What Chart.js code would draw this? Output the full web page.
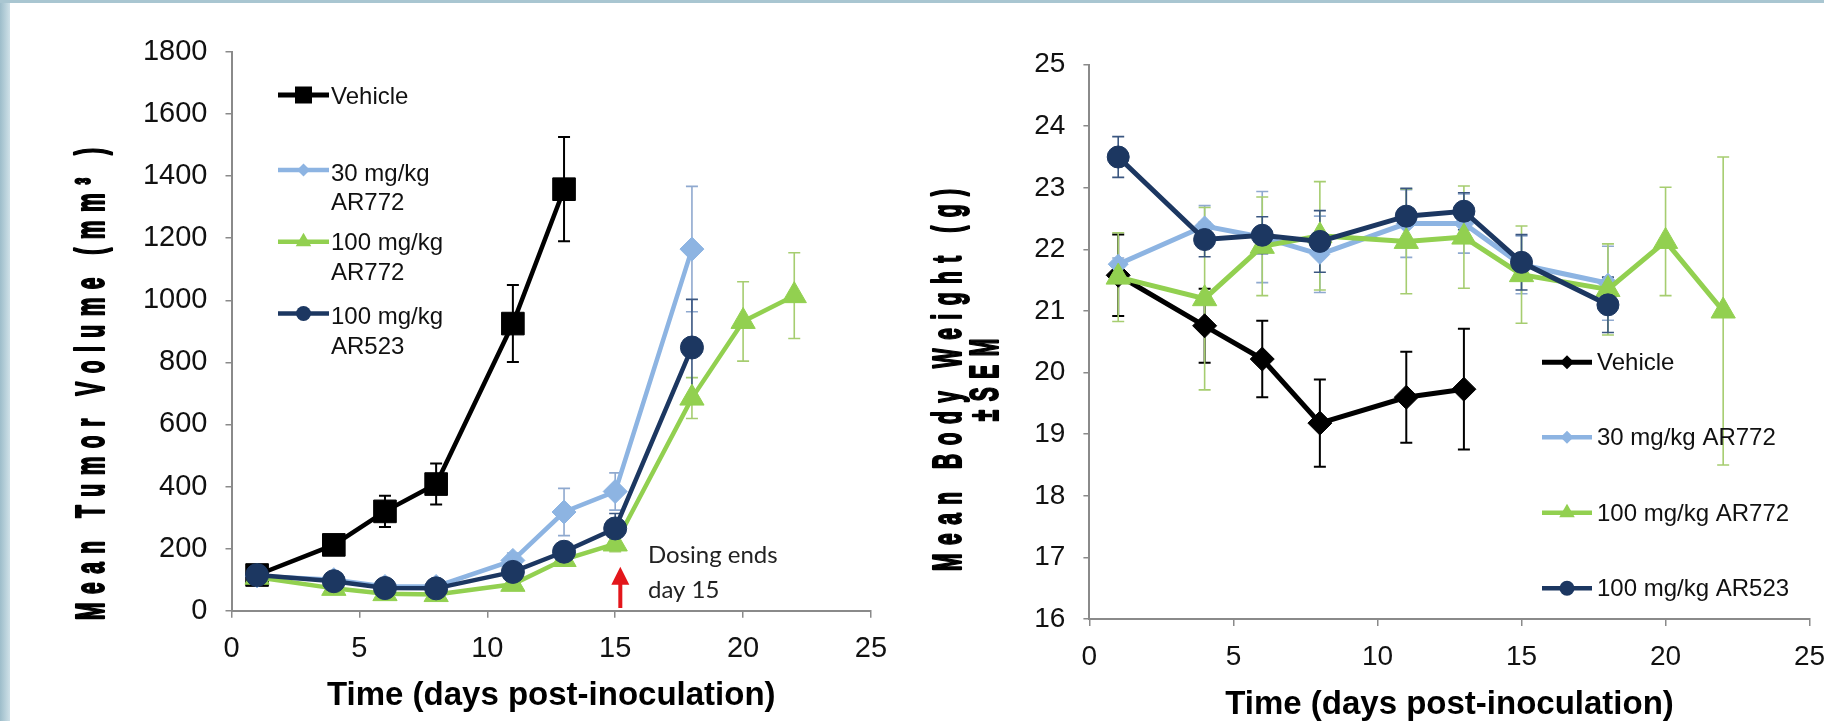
<!DOCTYPE html>
<html>
<head>
<meta charset="utf-8">
<script src="https://cdn.jsdelivr.net/npm/chart.js@4.4.1/dist/chart.umd.min.js"></script>
<style>
html,body{margin:0;padding:0;width:1824px;height:721px;overflow:hidden;background:#ffffff;}
#c1{position:absolute;left:0;top:0;}
#c2{position:absolute;left:912px;top:0;}
#lb{position:absolute;left:0;top:0;width:10px;height:721px;background:linear-gradient(to right,#9dbdca,#cfe1e8);}
#tb{position:absolute;left:0;top:0;width:1824px;height:3px;background:#a9c6d1;}
</style>
</head>
<body>
<canvas id="c1" width="912" height="721"></canvas>
<canvas id="c2" width="932" height="721"></canvas>
<div id="lb"></div><div id="tb"></div>
<script>
// ---------------- DATA ----------------
const xTickValues = [0, 5, 10, 15, 20, 25];
const tumorTickValues = [0, 200, 400, 600, 800, 1000, 1200, 1400, 1600, 1800];
const weightTickValues = [16, 17, 18, 19, 20, 21, 22, 23, 24, 25];

const seriesLabels = ['Vehicle', '30 mg/kg AR772', '100 mg/kg AR772', '100 mg/kg AR523'];
const leftLegendText = [['Vehicle'], ['30 mg/kg', 'AR772'], ['100 mg/kg', 'AR772'], ['100 mg/kg', 'AR523']];
const rightLegendText = [['Vehicle'], ['30 mg/kg AR772'], ['100 mg/kg AR772'], ['100 mg/kg AR523']];

const xAxisTitle = 'Time (days post-inoculation)';
const tumorAxisTitle = ['Mean Tumor Volume (mm\u00B3 )'];
const weightAxisTitle = ['Mean Body Weight (g)', '\u00B1SEM'];
const annotationText = ['Dosing ends', 'day 15'];
const annotationDay = 15.2;

// Tumor volume (mm3)
const tumorDaysVehicle = [1, 4, 6, 8, 11, 13];
const tumorVehicle = [115, 212, 320, 408, 925, 1358];
const tumorVehicleSem = [20, 28, 50, 66, 124, 168];

const tumorDaysAR772low = [1, 4, 6, 8, 11, 13, 15, 18];
const tumorAR772low = [112, 100, 78, 78, 162, 318, 384, 1165];
const tumorAR772lowSem = [14, 14, 14, 14, 24, 76, 60, 202];

const tumorDaysAR772high = [1, 4, 6, 8, 11, 13, 15, 18, 20, 22];
const tumorAR772high = [108, 72, 55, 52, 85, 165, 215, 685, 932, 1015];
const tumorAR772highSem = [12, 12, 10, 10, 15, 20, 25, 66, 128, 138];

const tumorDaysAR523 = [1, 4, 6, 8, 11, 13, 15, 18];
const tumorAR523 = [115, 95, 73, 72, 125, 190, 265, 848];
const tumorAR523Sem = [15, 15, 12, 12, 20, 25, 48, 155];

// Body weight (g)
const weightDaysVehicle = [1, 4, 6, 8, 11, 13];
const weightVehicle = [21.58, 20.76, 20.22, 19.18, 19.6, 19.73];
const weightVehicleSem = [0.66, 0.6, 0.62, 0.71, 0.74, 0.98];

const weightDaysAR772low = [1, 4, 6, 8, 11, 13, 15, 18];
const weightAR772low = [21.76, 22.38, 22.2, 21.92, 22.42, 22.42, 21.75, 21.45];
const weightAR772lowSem = [0.1, 0.33, 0.74, 0.62, 0.55, 0.48, 0.47, 0.6];

const weightDaysAR772high = [1, 4, 6, 8, 11, 13, 15, 18, 20, 22];
const weightAR772high = [21.55, 21.2, 22.05, 22.22, 22.13, 22.2, 21.59, 21.35, 22.13, 21.0];
const weightAR772highSem = [0.72, 1.48, 0.8, 0.88, 0.85, 0.83, 0.79, 0.74, 0.88, 2.5];

const weightDaysAR523 = [1, 4, 6, 8, 11, 13, 15, 18];
const weightAR523 = [23.5, 22.16, 22.23, 22.13, 22.54, 22.62, 21.79, 21.1];
const weightAR523Sem = [0.33, 0.28, 0.3, 0.5, 0.45, 0.3, 0.45, 0.45];

// ---------------- STYLES ----------------
const FONT = "'Liberation Sans', Arial, sans-serif";
const AXIS_GRAY = '#8a8a8a';
const leftStyles = [
  {color: '#000000', err: '#000000', errW: 2,   shape: 'rect',     r: 16,  lw: 4.5, order: 4},
  {color: '#8db4e2', err: '#8fa9cf', errW: 1.6, shape: 'rectRot',  r: 12,  lw: 4.5, order: 3},
  {color: '#92d050', err: '#a6cd70', errW: 1.6, shape: 'triangle', r: 14,  lw: 4.5, order: 2},
  {color: '#1c3761', err: '#3a5680', errW: 1.6, shape: 'circle',   r: 11.5, lw: 4.5, order: 1}
];
const rightStyles = [
  {color: '#000000', err: '#000000', errW: 2,   shape: 'rectRot',  r: 12,  lw: 5, order: 4},
  {color: '#8db4e2', err: '#8fa9cf', errW: 1.6, shape: 'rectRot',  r: 10,  lw: 5, order: 3},
  {color: '#92d050', err: '#a6cd70', errW: 1.6, shape: 'triangle', r: 14,  lw: 5, order: 2},
  {color: '#1c3761', err: '#3a5680', errW: 1.6, shape: 'circle',   r: 11,  lw: 5, order: 1}
];
const leftLegendLayout = [
  {x1: 278, x2: 329, y: 95,    r: 8.5, tx: 331, ty: [95]},
  {x1: 278, x2: 329, y: 170,   r: 6.5, tx: 331, ty: [172, 201]},
  {x1: 278, x2: 329, y: 241.7, r: 9,   tx: 331, ty: [241.7, 271]},
  {x1: 278, x2: 329, y: 313.5, r: 7.5, tx: 331, ty: [315, 345]}
];
const rightLegendLayout = [
  {x1: 630, x2: 680, y: 362.3, r: 7,   tx: 685, ty: [361.7]},
  {x1: 630, x2: 680, y: 437.3, r: 6.5, tx: 685, ty: [436.7]},
  {x1: 630, x2: 680, y: 512.7, r: 9,   tx: 685, ty: [512.3]},
  {x1: 630, x2: 680, y: 588.3, r: 7.5, tx: 685, ty: [587.3]}
];

// ---------------- HELPERS ----------------
function makeDataset(i, days, values, sem, styles) {
  const s = styles[i];
  return {
    label: seriesLabels[i],
    data: days.map((d, j) => ({x: d, y: values[j]})),
    sem: sem,
    errColor: s.err,
    errWidth: s.errW,
    borderColor: s.color,
    backgroundColor: s.color,
    pointBackgroundColor: s.color,
    pointBorderColor: s.color,
    pointBorderWidth: 1,
    pointStyle: s.shape,
    pointRadius: s.r,
    pointHoverRadius: s.r,
    borderWidth: s.lw,
    tension: 0,
    order: s.order,
    clip: false
  };
}

function drawMarker(ctx, shape, x, y, r, color) {
  ctx.fillStyle = color;
  ctx.beginPath();
  if (shape === 'rect') {
    ctx.rect(x - r, y - r, 2 * r, 2 * r);
  } else if (shape === 'rectRot') {
    ctx.moveTo(x, y - r); ctx.lineTo(x + r, y); ctx.lineTo(x, y + r); ctx.lineTo(x - r, y); ctx.closePath();
  } else if (shape === 'triangle') {
    ctx.moveTo(x, y - r); ctx.lineTo(x + r * 0.866, y + r * 0.5); ctx.lineTo(x - r * 0.866, y + r * 0.5); ctx.closePath();
  } else {
    ctx.arc(x, y, r, 0, Math.PI * 2);
  }
  ctx.fill();
}

const errorBarPlugin = {
  id: 'errorBars',
  beforeDatasetsDraw(chart) {
    const ctx = chart.ctx;
    const ys = chart.scales.y;
    const order = chart.data.datasets.map((d, i) => i).sort((a, b) => chart.data.datasets[b].order - chart.data.datasets[a].order);
    order.forEach(i => {
      const ds = chart.data.datasets[i];
      const meta = chart.getDatasetMeta(i);
      ctx.save();
      ctx.strokeStyle = ds.errColor;
      ctx.lineWidth = ds.errWidth;
      meta.data.forEach((pt, j) => {
        const v = ds.data[j].y, e = ds.sem[j];
        const yt = ys.getPixelForValue(v + e), yb = ys.getPixelForValue(v - e);
        const x = pt.x;
        ctx.beginPath();
        ctx.moveTo(x, yt); ctx.lineTo(x, yb);
        ctx.moveTo(x - 6, yt); ctx.lineTo(x + 6, yt);
        ctx.moveTo(x - 6, yb); ctx.lineTo(x + 6, yb);
        ctx.stroke();
      });
      ctx.restore();
    });
  }
};

function legendPlugin(layout, texts) {
  return {
    id: 'customLegend',
    afterDraw(chart) {
      const ctx = chart.ctx;
      layout.forEach((it, i) => {
        const ds = chart.data.datasets[i];
        ctx.save();
        ctx.strokeStyle = ds.borderColor;
        ctx.lineWidth = i === 0 ? 5 : 4.5;
        ctx.beginPath(); ctx.moveTo(it.x1, it.y); ctx.lineTo(it.x2, it.y); ctx.stroke();
        drawMarker(ctx, ds.pointStyle, (it.x1 + it.x2) / 2, it.y, it.r, ds.borderColor);
        ctx.fillStyle = '#111111';
        ctx.font = '24px ' + FONT;
        ctx.textBaseline = 'alphabetic';
        ctx.textAlign = 'left';
        texts[i].forEach((t, j) => ctx.fillText(t, it.tx, it.ty[j] + 8.6));
        ctx.restore();
      });
    }
  };
}

function rotatedTitlePlugin(lines, cxs, cy) {
  return {
    id: 'rotatedTitle',
    afterDraw(chart) {
      const ctx = chart.ctx;
      const stretch = 1.9, spacing = 8.5;
      lines.forEach((text, li) => {
        ctx.save();
        ctx.translate(cxs[li], cy);
        ctx.rotate(-Math.PI / 2);
        ctx.scale(1, stretch);
        ctx.font = 'bold 21px ' + FONT;
        ctx.fillStyle = '#000000';
        ctx.strokeStyle = '#000000';
        ctx.lineWidth = 1.1;
        ctx.lineJoin = 'round';
        ctx.textBaseline = 'middle';
        ctx.textAlign = 'left';
        const chars = Array.from(text);
        const widths = chars.map(c => ctx.measureText(c).width);
        const total = widths.reduce((a, b) => a + b, 0) + spacing * (chars.length - 1);
        let x = -total / 2;
        chars.forEach((c, i) => { ctx.fillText(c, x, 0); ctx.strokeText(c, x, 0); x += widths[i] + spacing; });
        ctx.restore();
      });
    }
  };
}

const annotationPlugin = {
  id: 'dosingAnnotation',
  afterDatasetsDraw(chart) {
    const ctx = chart.ctx;
    const xs = chart.scales.x, ys = chart.scales.y;
    const ax = xs.getPixelForValue(annotationDay);
    const yBase = ys.getPixelForValue(8.7), yTip = ys.getPixelForValue(141.7);
    ctx.save();
    ctx.strokeStyle = '#e3161b';
    ctx.fillStyle = '#e3161b';
    ctx.lineWidth = 4;
    ctx.beginPath(); ctx.moveTo(ax, yBase); ctx.lineTo(ax, yTip + 14); ctx.stroke();
    ctx.beginPath(); ctx.moveTo(ax, yTip); ctx.lineTo(ax + 9, yTip + 18); ctx.lineTo(ax - 9, yTip + 18); ctx.closePath(); ctx.fill();
    ctx.fillStyle = '#222222';
    ctx.font = "24px Lato, 'Open Sans', sans-serif";
    ctx.textBaseline = 'alphabetic';
    ctx.textAlign = 'left';
    const tx = xs.getPixelForValue(16.28);
    ctx.fillText(annotationText[0], tx, ys.getPixelForValue(154));
    ctx.fillText(annotationText[1], tx, ys.getPixelForValue(41));
    ctx.restore();
  }
};

function axes(yTicks, yMin, yMax, yWidth, xHeight, tickSize, titlePadBottom) {
  return {
    x: {
      type: 'linear', min: 0, max: 25,
      afterBuildTicks: s => { s.ticks = xTickValues.map(v => ({value: v})); },
      ticks: {font: {family: FONT, size: tickSize}, color: '#111111', padding: 14, maxRotation: 0, callback: v => String(v)},
      grid: {drawOnChartArea: false, drawTicks: true, tickLength: 7, color: AXIS_GRAY, lineWidth: 1.5},
      border: {color: AXIS_GRAY, width: 2},
      title: {display: true, text: xAxisTitle, color: '#000000',
        font: {family: FONT, size: 33, weight: 'bold', lineHeight: 1.0},
        padding: {top: 0, bottom: titlePadBottom}},
      afterFit: s => { s.height = xHeight; }
    },
    y: {
      type: 'linear', min: yMin, max: yMax,
      afterBuildTicks: s => { s.ticks = yTicks.map(v => ({value: v})); },
      ticks: {font: {family: FONT, size: tickSize}, color: '#111111', padding: 18, callback: v => String(v)},
      grid: {drawOnChartArea: false, drawTicks: true, tickLength: 6, color: AXIS_GRAY, lineWidth: 1.5},
      border: {color: AXIS_GRAY, width: 2},
      afterFit: s => { s.width = yWidth; }
    }
  };
}

// ---------------- LEFT CHART ----------------
new Chart(document.getElementById('c1'), {
  type: 'line',
  data: {
    datasets: [
      makeDataset(0, tumorDaysVehicle, tumorVehicle, tumorVehicleSem, leftStyles),
      makeDataset(1, tumorDaysAR772low, tumorAR772low, tumorAR772lowSem, leftStyles),
      makeDataset(2, tumorDaysAR772high, tumorAR772high, tumorAR772highSem, leftStyles),
      makeDataset(3, tumorDaysAR523, tumorAR523, tumorAR523Sem, leftStyles)
    ]
  },
  options: {
    responsive: false, animation: false, devicePixelRatio: 1,
    layout: {padding: {left: 0, right: 41, top: 52, bottom: 0}},
    plugins: {legend: {display: false}, tooltip: {enabled: false}},
    scales: axes(tumorTickValues, 0, 1800, 231.5, 110.3, 29, 8.5)
  },
  plugins: [errorBarPlugin, annotationPlugin, legendPlugin(leftLegendLayout, leftLegendText), rotatedTitlePlugin(tumorAxisTitle, [93], 384)]
});

// ---------------- RIGHT CHART ----------------
new Chart(document.getElementById('c2'), {
  type: 'line',
  data: {
    datasets: [
      makeDataset(0, weightDaysVehicle, weightVehicle, weightVehicleSem, rightStyles),
      makeDataset(1, weightDaysAR772low, weightAR772low, weightAR772lowSem, rightStyles),
      makeDataset(2, weightDaysAR772high, weightAR772high, weightAR772highSem, rightStyles),
      makeDataset(3, weightDaysAR523, weightAR523, weightAR523Sem, rightStyles)
    ]
  },
  options: {
    responsive: false, animation: false, devicePixelRatio: 1,
    layout: {padding: {left: 0, right: 34.4, top: 64.6, bottom: 0}},
    plugins: {legend: {display: false}, tooltip: {enabled: false}},
    scales: axes(weightTickValues, 16, 25, 177.4, 102, 28, 0)
  },
  plugins: [errorBarPlugin, legendPlugin(rightLegendLayout, rightLegendText), rotatedTitlePlugin(weightAxisTitle, [38, 75], 380)]
});
</script>
</body>
</html>
